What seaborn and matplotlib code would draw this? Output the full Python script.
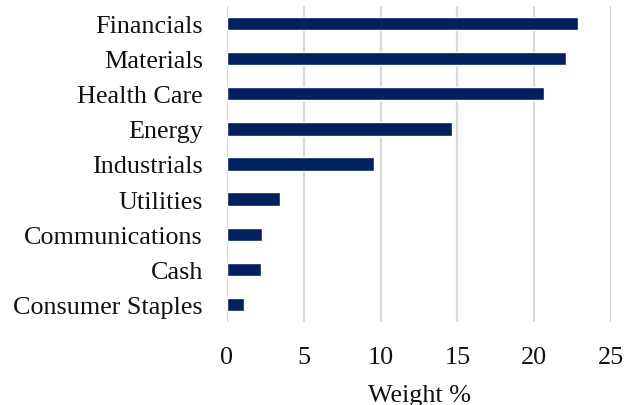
import pandas as pd
import matplotlib.pyplot as plt
import seaborn as sns

sectors = ["Financials", "Materials", "Health Care", "Energy", "Industrials",
           "Utilities", "Communications", "Cash", "Consumer Staples"]
weights = [22.85, 22.05, 20.65, 14.65, 9.55, 3.45, 2.3, 2.25, 1.15]

sns.set_style("white")
plt.rcParams['font.family'] = ['Liberation Serif', 'DejaVu Serif']

df = pd.DataFrame({"Sector": sectors, "Weight": weights})

fig = plt.figure(figsize=(6.36, 4.06), dpi=100)
ax = fig.add_axes([0.3565, 0.2044, 0.6047, 0.7784])

sns.barplot(data=df, x="Weight", y="Sector", orient="h", color="#002060",
            width=0.38, saturation=1, ax=ax)

ax.set_xlim(0, 25)
ax.set_xticks([0, 5, 10, 15, 20, 25])
ax.xaxis.grid(True, color="#d9d9d9", linewidth=1.6)
ax.set_axisbelow(True)
for s in ax.spines.values():
    s.set_visible(False)
ax.tick_params(axis="both", length=0, labelsize=18.8, colors="#111111")
ax.tick_params(axis="y", pad=17)
ax.tick_params(axis="x", pad=17)
ax.set_ylabel("")
ax.set_xlabel("Weight %", fontsize=18.8, color="#111111", labelpad=12)

plt.savefig("out.png", dpi=100)
